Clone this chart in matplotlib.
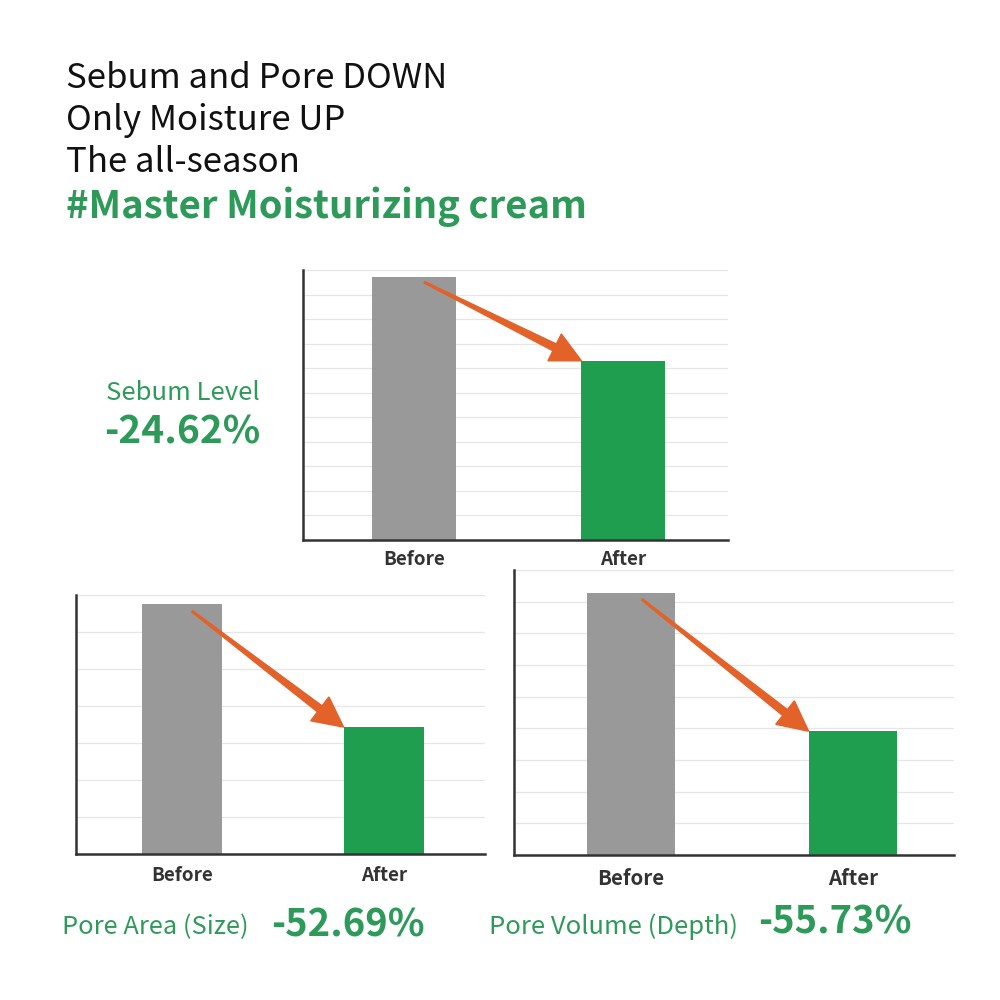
import matplotlib
matplotlib.use("Agg")
import matplotlib.pyplot as plt
from matplotlib.patches import Polygon
import numpy as np

plt.rcParams['font.family'] = ['Noto Sans CJK KR', 'DejaVu Sans']

# data (grid units)
categories = ["Before", "After"]
sebum = [10.7, 7.3]
pore_area = [6.76, 3.43]
pore_volume = [8.27, 3.91]

title_lines = ["Sebum and Pore DOWN", "Only Moisture UP", "The all-season"]
title_green = "#Master Moisturizing cream"

GRAY = "#999999"
GREEN = "#1f9e50"
TEXT_GREEN = "#2e9a5a"
ORANGE = "#e2622a"
DARK = "#333333"

fig = plt.figure(figsize=(10, 10), dpi=100)


def tapered_arrow(ax, x0, y0, x1, y1):
    # build the arrow in pixel space so it keeps its shape
    p0 = ax.transData.transform((x0, y0))
    p1 = ax.transData.transform((x1, y1))
    d = p1 - p0
    L = np.hypot(*d)
    u = d / L
    n = np.array([-u[1], u[0]])
    head_len, head_w = 30, 15
    w0, w1 = 0.8, 3.8
    b = p1 - u * head_len
    pts = [p0 + n * w0, b + n * w1, b + n * head_w, p1,
           b - n * head_w, b - n * w1, p0 - n * w0]
    fig.patches.append(Polygon(pts, closed=True, color=ORANGE,
                               transform=None, zorder=5))


def bar_panel(rect, vals, ymax, xlim, tick_size, pad):
    ax = fig.add_axes(rect)
    x = np.arange(len(vals))
    ax.bar(x, vals, width=0.4, color=[GRAY, GREEN], zorder=2)
    ax.set_ylim(0, ymax)
    ax.set_xlim(*xlim)
    ax.set_yticks(np.arange(0, ymax + 1))
    ax.yaxis.grid(True, color="#e6e6e6", linewidth=0.9, zorder=0)
    ax.tick_params(axis="y", left=False, labelleft=False)
    ax.tick_params(axis="x", bottom=False, pad=pad)
    ax.set_xticks(x)
    ax.set_xticklabels(categories, fontsize=tick_size, fontweight="bold",
                       color=DARK)
    for s in ["top", "right"]:
        ax.spines[s].set_visible(False)
    for s in ["left", "bottom"]:
        ax.spines[s].set_color(DARK)
        ax.spines[s].set_linewidth(1.8)
    ax.set_axisbelow(True)
    return ax


ax1 = bar_panel([0.303, 0.46, 0.425, 0.27], sebum, 11, (-0.53, 1.5), 13.6, 4)
ax2 = bar_panel([0.076, 0.146, 0.409, 0.259], pore_area, 7, (-0.525, 1.5), 13.6, 5)
ax3 = bar_panel([0.514, 0.145, 0.44, 0.285], pore_volume, 9, (-0.527, 1.455), 14.7, 6)

for ax, vals in [(ax1, sebum), (ax2, pore_area), (ax3, pore_volume)]:
    tapered_arrow(ax, 0.05, vals[0] - 0.2, 1 - 0.2, vals[1])

# headline
for i, t in enumerate(title_lines):
    fig.text(0.066, 1 - (0.078 + 0.042 * i), t, fontsize=25, color="#111111",
             va="center", ha="left")
fig.text(0.066, 1 - 0.207, title_green, fontsize=27.5, fontweight="bold",
         color=TEXT_GREEN, va="center", ha="left")

# panel captions
fig.text(0.183, 1 - 0.393, "Sebum Level", fontsize=18.5, color=TEXT_GREEN,
         ha="center", va="center")
fig.text(0.182, 1 - 0.432, "-24.62%", fontsize=28, fontweight="bold",
         color=TEXT_GREEN, ha="center", va="center")
fig.text(0.062, 1 - 0.927, "Pore Area (Size)", fontsize=18.3, color=TEXT_GREEN,
         ha="left", va="center")
fig.text(0.271, 1 - 0.925, "-52.69%", fontsize=27.5, fontweight="bold",
         color=TEXT_GREEN, ha="left", va="center")
fig.text(0.489, 1 - 0.927, "Pore Volume (Depth)", fontsize=18.4,
         color=TEXT_GREEN, ha="left", va="center")
fig.text(0.758, 1 - 0.922, "-55.73%", fontsize=27.5, fontweight="bold",
         color=TEXT_GREEN, ha="left", va="center")

fig.savefig("out.png", dpi=100, facecolor="white")
